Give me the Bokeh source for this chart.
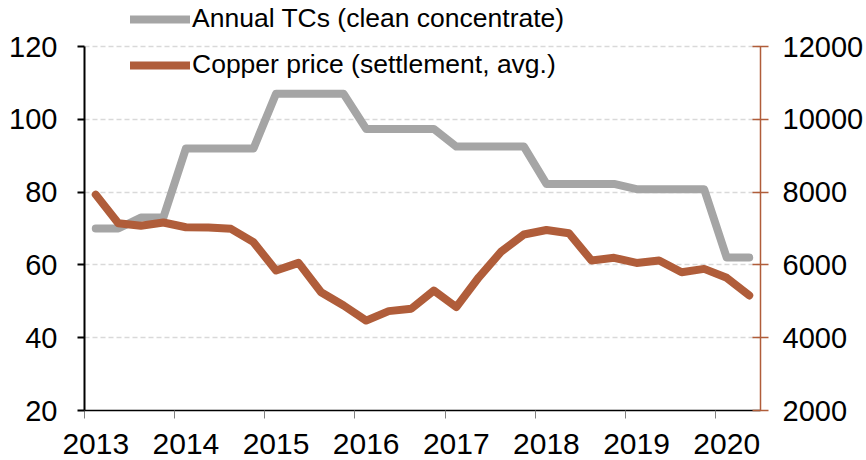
import pandas as pd
from bokeh.plotting import figure
from bokeh.models import Range1d, LinearAxis, FixedTicker, Legend, LegendItem
from bokeh.embed import file_html
from bokeh.resources import INLINE

# ---- data ----
quarters = [f"{y}Q{q}" for y in range(2013, 2021) for q in range(1, 5)][:30]
tc_values = [70, 70, 73, 73,
             92, 92, 92, 92,
             107, 107, 107, 107,
             97.35, 97.35, 97.35, 97.35,
             92.5, 92.5, 92.5, 92.5,
             82.25, 82.25, 82.25, 82.25,
             80.8, 80.8, 80.8, 80.8,
             62, 62]
copper_values = [7930, 7145, 7075, 7165,
                 7035, 7030, 6990, 6625,
                 5845, 6055, 5250, 4885,
                 4470, 4730, 4795, 5295,
                 4840, 5660, 6370, 6835,
                 6960, 6870, 6120, 6195,
                 6055, 6120, 5800, 5890,
                 5645, 5160]
years = [2013, 2014, 2015, 2016, 2017, 2018, 2019, 2020]
year_labels = ["2013", "2014", "2015", "2016", "2017", "2018", "2019", "2020"]
left_ticks = [20, 40, 60, 80, 100, 120]
right_ticks = [2000, 4000, 6000, 8000, 10000, 12000]
series_names = ["Annual TCs (clean concentrate)", "Copper price (settlement, avg.)"]

per = pd.PeriodIndex(quarters, freq="Q")
x = list(per.year + (per.quarter - 0.5) / 4.0)

GRAY = "#A5A5A5"
BROWN = "#B05D3A"
FONT = "Liberation Sans"

# layout: axes span 364 px; 46 px of headroom above the top tick hold the legend
AXIS_PX = 364
HEAD_PX = 46
left_lo, left_hi = left_ticks[0], left_ticks[-1]
right_lo, right_hi = right_ticks[0], right_ticks[-1]
left_top = left_hi + HEAD_PX * (left_hi - left_lo) / AXIS_PX
right_top = right_hi + HEAD_PX * (right_hi - right_lo) / AXIS_PX

p = figure(width=866, height=460, output_backend="svg", toolbar_location=None,
           x_range=Range1d(2013, 2020.5), y_range=Range1d(left_lo, left_top),
           min_border_left=84, min_border_right=106, min_border_top=0, min_border_bottom=50,
           background_fill_color="white", border_fill_color="white")
p.outline_line_color = None
p.extra_y_ranges = {"cu": Range1d(right_lo, right_top)}

# grid
p.xgrid.visible = False
p.ygrid.ticker = FixedTicker(ticks=left_ticks[1:])
p.ygrid.grid_line_color = "#D9D9D9"
p.ygrid.grid_line_dash = "5 3"
p.ygrid.grid_line_width = 1.3

# bottom axis
xa = p.xaxis[0]
xa.ticker = FixedTicker(ticks=[y + 0.125 for y in years], minor_ticks=years)
xa.major_label_overrides = {y + 0.125: lab for y, lab in zip(years, year_labels)}
xa.major_tick_out = 0
xa.major_tick_in = 0
xa.minor_tick_out = 8
xa.minor_tick_in = 0
xa.minor_tick_line_color = "#808080"
xa.minor_tick_line_width = 1
xa.axis_line_color = "black"
xa.axis_line_width = 1.5
xa.major_label_standoff = 15
xa.major_label_text_font = FONT
xa.major_label_text_font_size = "30px"
xa.major_label_text_color = "black"

# left axis
ya = p.yaxis[0]
ya.ticker = FixedTicker(ticks=left_ticks)
ya.bounds = (left_lo, left_hi)
ya.axis_line_color = "black"
ya.axis_line_width = 2
ya.major_tick_out = 7
ya.major_tick_in = 0
ya.major_tick_line_width = 2
ya.major_tick_line_color = "black"
ya.minor_tick_line_color = None
ya.major_label_standoff = 20
ya.major_label_text_font = FONT
ya.major_label_text_font_size = "29px"
ya.major_label_text_color = "black"

# right axis
ra = LinearAxis(y_range_name="cu", ticker=FixedTicker(ticks=right_ticks),
                bounds=(right_lo, right_hi))
ra.axis_line_color = BROWN
ra.axis_line_width = 1.5
ra.major_tick_out = 8
ra.major_tick_in = 8
ra.major_tick_line_color = BROWN
ra.major_tick_line_width = 1.5
ra.minor_tick_line_color = None
ra.major_label_standoff = 14
ra.major_label_text_font = FONT
ra.major_label_text_font_size = "29px"
ra.major_label_text_color = "black"
p.add_layout(ra, "right")

r1 = p.line(x, tc_values, line_color=GRAY, line_width=8, line_cap="round", line_join="round")
r2 = p.line(x, copper_values, y_range_name="cu", line_color=BROWN, line_width=8,
            line_cap="round", line_join="round")

legend = Legend(items=[LegendItem(label=series_names[0], renderers=[r1]),
                       LegendItem(label=series_names[1], renderers=[r2])],
                location=(46, 330), orientation="vertical",
                glyph_width=60, glyph_height=30, label_height=30, spacing=15,
                label_standoff=2, padding=0, margin=0,
                border_line_color=None, background_fill_alpha=0,
                label_text_font=FONT, label_text_font_size="26.5px",
                label_text_color="black")
p.add_layout(legend)

open("out.html", "w").write(file_html(p, INLINE))
